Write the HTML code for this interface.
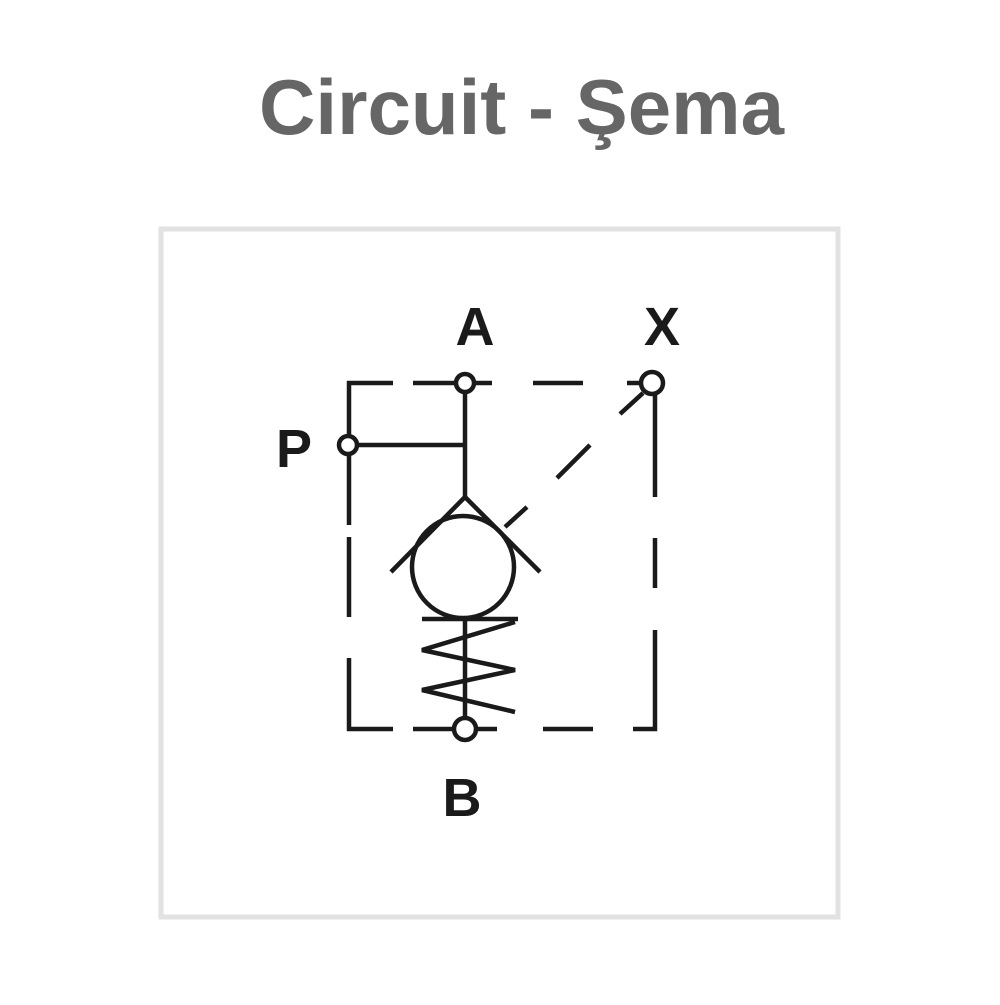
<!DOCTYPE html>
<html><head><style>html,body{margin:0;padding:0;background:#fff;}</style></head>
<body>
<svg width="1000" height="1000" viewBox="0 0 1000 1000" xmlns="http://www.w3.org/2000/svg">
<rect width="1000" height="1000" fill="#fff"/>
<text x="259" y="134" font-family="Liberation Sans, sans-serif" font-weight="bold" font-size="78" fill="#666" textLength="525" lengthAdjust="spacingAndGlyphs">Circuit - Şema</text>
<rect x="161" y="229" width="677" height="688" fill="none" stroke="#e2e2e2" stroke-width="5"/>
<g stroke="#1a1a1a" stroke-width="4.5" fill="none" stroke-linecap="butt">
<polyline points="349,440 349,383 393,383"/>
<line x1="413" y1="383" x2="455" y2="383"/>
<line x1="475" y1="383" x2="492" y2="383"/>
<line x1="533" y1="383" x2="583" y2="383"/>
<line x1="627" y1="383" x2="640" y2="383"/>
<line x1="349" y1="455" x2="349" y2="525"/>
<line x1="349" y1="537" x2="349" y2="617"/>
<polyline points="349,658 349,729 393,729"/>
<line x1="413" y1="729" x2="453" y2="729"/>
<line x1="477" y1="729" x2="497" y2="729"/>
<line x1="543" y1="729" x2="593" y2="729"/>
<polyline points="633,729 655,729 655,630"/>
<line x1="655" y1="395" x2="655" y2="497"/>
<line x1="655" y1="538" x2="655" y2="588"/>
<line x1="465" y1="393" x2="465" y2="497"/>
<line x1="358" y1="445" x2="465" y2="445"/>
<polyline points="391,572 465,497 540,572"/>
<circle cx="463" cy="567" r="51"/>
<line x1="643" y1="393" x2="620" y2="414"/>
<line x1="590" y1="445" x2="557" y2="478"/>
<line x1="527" y1="507" x2="505" y2="527"/>
<line x1="422" y1="619" x2="518" y2="619"/>
<line x1="465" y1="619" x2="465" y2="717"/>
<polyline points="515,622 422,650 515,670 422,690 515,712"/>
</g>
<g stroke="#1a1a1a" stroke-width="4.5" fill="#fff">
<circle cx="465" cy="383" r="9"/>
<circle cx="652" cy="383" r="11"/>
<circle cx="348" cy="445" r="9"/>
<circle cx="465" cy="729" r="11"/>
</g>
<g font-family="Liberation Sans, sans-serif" font-weight="bold" font-size="54" fill="#1a1a1a" text-anchor="middle">
<text x="475" y="345">A</text>
<text x="662" y="345">X</text>
<text x="294" y="467">P</text>
<text x="462" y="816">B</text>
</g>
</svg>
</body></html>
